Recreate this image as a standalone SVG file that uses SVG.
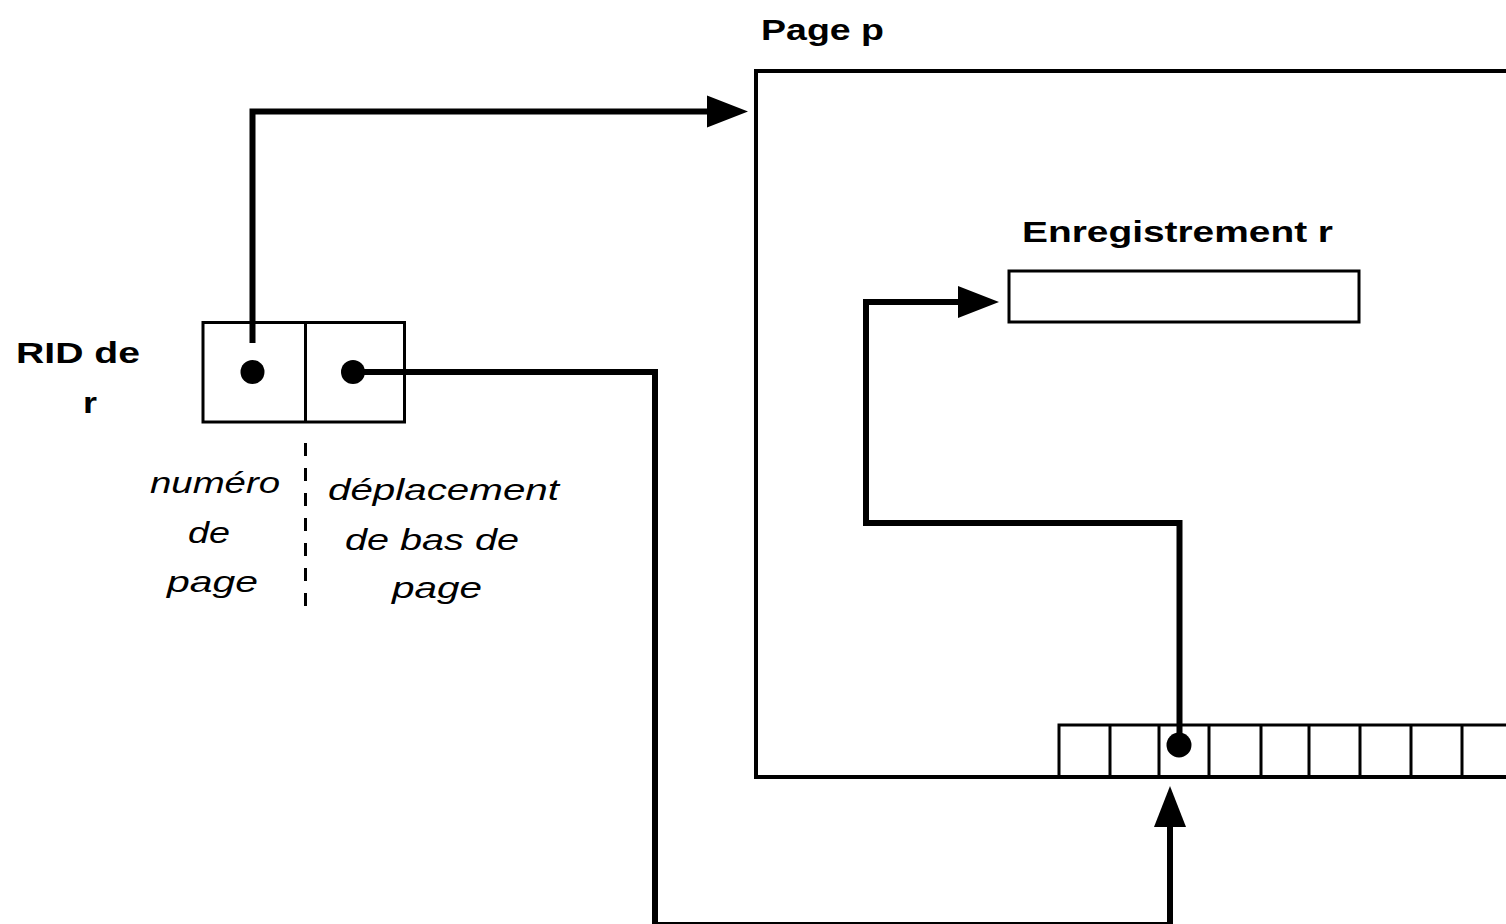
<svg xmlns="http://www.w3.org/2000/svg" width="1506" height="924" viewBox="0 0 1506 924">
<style>
.box{fill:#fff;stroke:#000;stroke-width:3}
.thin{fill:none;stroke:#000;stroke-width:3}
.conn{fill:none;stroke:#000;stroke-width:6}
.dot{fill:#000}
.bold{font-family:"Liberation Sans",Arial,sans-serif;font-weight:bold;font-size:30px;fill:#000}
.ital{font-family:"Liberation Sans",Arial,sans-serif;font-style:italic;font-size:30px;fill:#000}
</style>
<defs>
<marker id="arrow" markerUnits="userSpaceOnUse" markerWidth="42" markerHeight="34" refX="0" refY="17" orient="auto" viewBox="0 0 42 34">
<path d="M0,1 L41,17 L0,33 Z" fill="#000"/>
</marker>
</defs>
<rect width="1506" height="924" fill="#fff"/>

<g id="page">
<rect x="756" y="71" width="800" height="706" fill="#fff" stroke="#000" stroke-width="4"/>
<text class="bold" x="761" y="39.5" textLength="123" lengthAdjust="spacingAndGlyphs">Page p</text>
</g>

<g id="enregistrement">
<rect class="box" x="1009" y="271" width="350" height="51" stroke-width="3.5"/>
<text class="bold" x="1022" y="241.5" textLength="311" lengthAdjust="spacingAndGlyphs">Enregistrement r</text>
</g>

<g id="slots">
<rect class="box" x="1059" y="725" width="500" height="52"/>
<path class="thin" d="M1110,725V777M1159,725V777M1209,725V777M1261,725V777M1309,725V777M1360,725V777M1411,725V777M1462,725V777"/>
<line x1="756" y1="777" x2="1506" y2="777" stroke="#000" stroke-width="4"/>
<circle class="dot" cx="1179" cy="745" r="12.5"/>
</g>

<g id="rid">
<rect class="box" x="203" y="322.5" width="201.5" height="99.5"/>
<line class="thin" x1="305.5" y1="322.5" x2="305.5" y2="422"/>
<circle class="dot" cx="252.5" cy="372" r="12"/>
<circle class="dot" cx="353" cy="372" r="12"/>
<text class="bold" x="16" y="362.7" textLength="124" lengthAdjust="spacingAndGlyphs">RID de</text>
<text class="bold" x="83" y="413.3" textLength="14" lengthAdjust="spacingAndGlyphs">r</text>
</g>

<g id="labels">
<line x1="305.5" y1="443" x2="305.5" y2="616" stroke="#000" stroke-width="3" stroke-dasharray="13 12"/>
<text class="ital" x="150" y="493" textLength="130" lengthAdjust="spacingAndGlyphs">numéro</text>
<text class="ital" x="188" y="543" textLength="42" lengthAdjust="spacingAndGlyphs">de</text>
<text class="ital" x="167" y="592" textLength="91" lengthAdjust="spacingAndGlyphs">page</text>
<text class="ital" x="328" y="500" textLength="231" lengthAdjust="spacingAndGlyphs">déplacement</text>
<text class="ital" x="345" y="550" textLength="174" lengthAdjust="spacingAndGlyphs">de bas de</text>
<text class="ital" x="392" y="598" textLength="90" lengthAdjust="spacingAndGlyphs">page</text>
</g>

<g id="connectors">
<path class="conn" d="M252.5,343 V111.5 H707" marker-end="url(#arrow)"/>
<path class="conn" d="M1179.5,745 V523 H866 V302 H958" marker-end="url(#arrow)"/>
<path class="conn" d="M353,372 H655 V925 H1170 V827" marker-end="url(#arrow)"/>
</g>
</svg>
